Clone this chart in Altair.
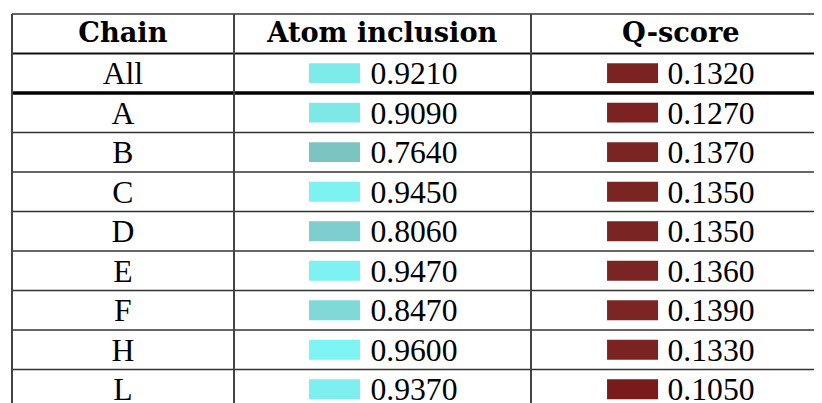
import altair as alt
import pandas as pd

chains = ["All", "A", "B", "C", "D", "E", "F", "H", "L"]
atom_inclusion = [0.9210, 0.9090, 0.7640, 0.9450, 0.8060, 0.9470, 0.8470, 0.9600, 0.9370]
q_score = [0.1320, 0.1270, 0.1370, 0.1350, 0.1350, 0.1360, 0.1390, 0.1330, 0.1050]
headers = ["Chain", "Atom inclusion", "Q-score"]

HDR = "__header__"
rows_order = [HDR] + chains

df = pd.DataFrame({"row": chains, "atom": atom_inclusion, "q": q_score})

FONT = "Liberation Serif"
FS = 32
HFONT = "DejaVu Serif"
HFS = 27.5

yscale = alt.Scale(domain=rows_order, range=[4, 403], paddingInner=0, paddingOuter=0)
Y = alt.Y("row:N", scale=yscale, axis=None, sort=rows_order)

base = alt.Chart(df)

chain_text = base.mark_text(font=FONT, fontSize=FS, color="black", align="center", baseline="middle", dy=1).encode(
    x=alt.value(116), y=Y, text="row:N")

atom_bar = base.mark_bar(height=20).encode(
    x=alt.value(304), x2=alt.value(355.5), y=Y,
    color=alt.Color("atom:Q", legend=None,
                    scale=alt.Scale(domain=[0.764, 0.96], range=["#7cc4c2", "#7ef5f5"])))
atom_text = base.mark_text(font=FONT, fontSize=FS, color="black", align="left", baseline="middle", dy=1).encode(
    x=alt.value(366), y=Y, text=alt.Text("atom:Q", format=".4f"))

q_bar = base.mark_bar(height=20).encode(
    x=alt.value(605), x2=alt.value(656.5), y=Y,
    color=alt.Color("q:Q", legend=None,
                    scale=alt.Scale(domain=[0.105, 0.139], range=["#7a1b1b", "#7b2525"])))
q_text = base.mark_text(font=FONT, fontSize=FS, color="black", align="left", baseline="middle", dy=1).encode(
    x=alt.value(666), y=Y, text=alt.Text("q:Q", format=".4f"))

hdr_layers = []
for label, xc in zip(headers, (116, 378, 679.5)):
    hdr_layers.append(
        alt.Chart(pd.DataFrame({"row": [HDR], "label": [label]})).mark_text(
            font=HFONT, fontSize=HFS, fontWeight="bold", color="black",
            align="center", baseline="middle", dy=0).encode(
            x=alt.value(xc), y=Y, text="label:N"))

def hline(rows, color, width):
    return alt.Chart(pd.DataFrame({"row": rows})).mark_rule(
        color=color, strokeWidth=width).encode(
        y=alt.Y("row:N", scale=yscale, axis=None, sort=rows_order, bandPosition=0),
        x=alt.value(4), x2=alt.value(830))

lines_thin = hline([HDR] + chains[2:], "#333333", 1.5)
line_hdr = hline(["All"], "#111111", 2)
line_thick = hline(["A"], "#000000", 3.5)

vlines = [alt.Chart(df).mark_rule(color="#444444", strokeWidth=1.5).encode(
    x=alt.value(xv), y=alt.value(4), y2=alt.value(420)) for xv in (4.1, 228.3, 528.2)]

chart = alt.layer(
    atom_bar, q_bar, chain_text, atom_text, q_text, *hdr_layers,
    lines_thin, line_hdr, line_thick, *vlines
).resolve_scale(color="independent").properties(
    width=814, height=403, padding=0, autosize=alt.AutoSizeParams(type="none")
).configure_view(stroke=None)

chart.save("out.html", embed_options={"renderer": "svg", "actions": False})
